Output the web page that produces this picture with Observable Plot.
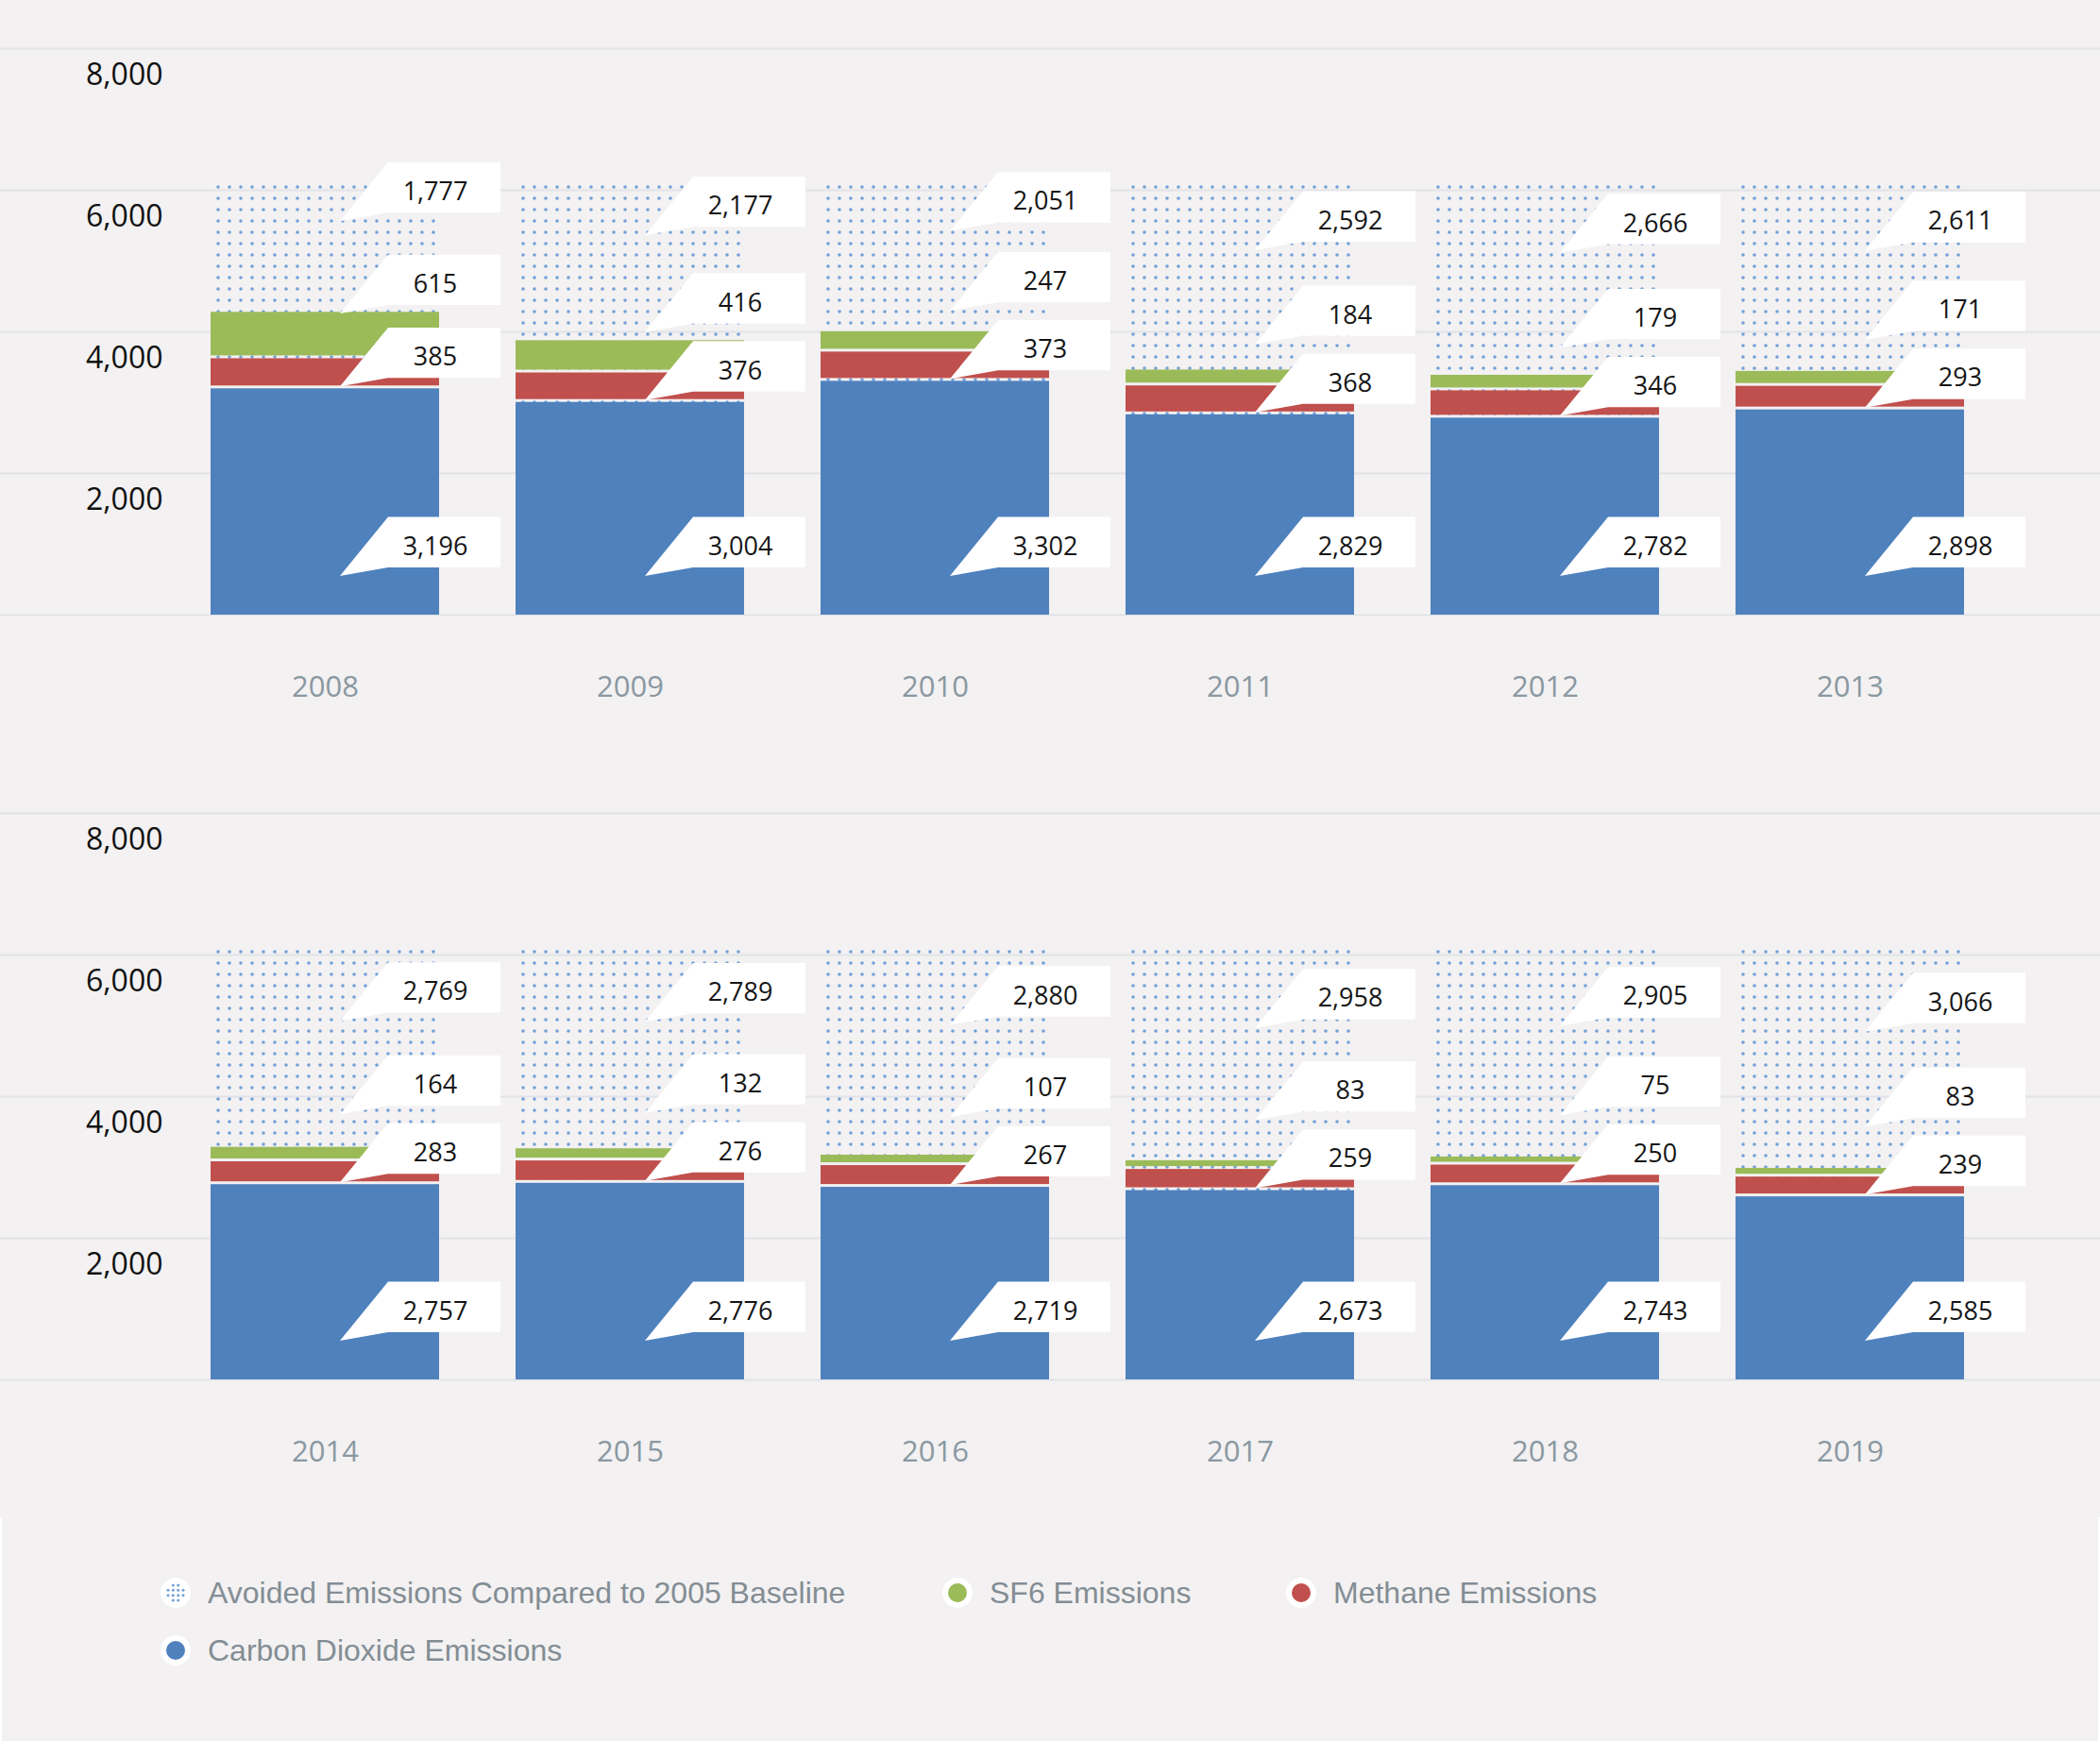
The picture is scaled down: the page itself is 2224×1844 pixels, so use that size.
<!DOCTYPE html>
<html>
<head>
<meta charset="utf-8">
<script src="https://cdn.jsdelivr.net/npm/d3@7"></script>
<script src="https://cdn.jsdelivr.net/npm/@observablehq/plot@0.6"></script>
<style>
  html, body { margin: 0; padding: 0; background: #f3f1f2; }
  #wrap { position: relative; width: 2224px; height: 1844px; overflow: hidden; background: #f3f1f2; }
  #charts svg { display: block; }
  #legend { position: absolute; left: 0; top: 1607px; width: 2224px; height: 237px; box-sizing: border-box;
            border-left: 2px solid #fff; border-right: 2px solid #fff;
            font-family: "Liberation Sans", Arial, sans-serif; font-size: 32px; color: #838d94; }
  .lg-marker { position: absolute; width: 34px; height: 34px; }
  .lg-text { position: absolute; line-height: 1; transform: translateY(-50%); white-space: nowrap; }
</style>
</head>
<body>
<div id="wrap">
  <div id="charts"></div>
  <div id="legend"></div>
</div>
<script>
// ---------- data ----------
const years    = ["2008","2009","2010","2011","2012","2013","2014","2015","2016","2017","2018","2019"];
const co2      = [3196, 3004, 3302, 2829, 2782, 2898, 2757, 2776, 2719, 2673, 2743, 2585];
const methane  = [385, 376, 373, 368, 346, 293, 283, 276, 267, 259, 250, 239];
const sf6      = [615, 416, 247, 184, 179, 171, 164, 132, 107, 83, 75, 83];
const avoided  = [1777, 2177, 2051, 2592, 2666, 2611, 2769, 2789, 2880, 2958, 2905, 3066];
const yTickValues = [2000, 4000, 6000, 8000];
const gridValues  = [0, 2000, 4000, 6000, 8000];
const seriesNames = ["Avoided Emissions Compared to 2005 Baseline", "SF6 Emissions", "Methane Emissions", "Carbon Dioxide Emissions"];

const colors = { co2: "#4f81bd", ch4: "#c0504d", sf6: "#9bbb59", dots: "#71a0d8" };
const fmt = d3.format(",");

const rows = years.map((year, i) => ({ year, co2: co2[i], ch4: methane[i], sf6: sf6[i], avoided: avoided[i] }));

const GAP = 3;          // pixel gap between stacked segments
const ML = 141, MR = 61;

// pattern defs (one per bar so the dot grid starts at each bar's corner)
function defsMark(panelRows) {
  return (index, scales) => {
    const { x, y } = scales;
    const defs = d3.create("svg:defs");
    for (const d of panelRows) {
      const total = d.co2 + d.ch4 + d.sf6 + d.avoided;
      const p = defs.append("pattern")
        .attr("id", "dots-" + d.year)
        .attr("patternUnits", "userSpaceOnUse")
        .attr("x", x(d.year) + 2)
        .attr("y", y(total) - 2)
        .attr("width", 12).attr("height", 12);
      p.append("circle").attr("cx", 6).attr("cy", 6).attr("r", 1.8).attr("fill", colors.dots);
    }
    return defs.node();
  };
}

// callout labels
function labelMark(panelRows) {
  return (index, scales) => {
    const { x, y } = scales;
    const bw = x.bandwidth();
    const g = d3.create("svg:g").attr("font-family", "'Open Sans', sans-serif");
    const H = 26.7, TIP = 9, OFF = H + TIP;
    for (const d of panelRows) {
      const cx = x(d.year) + bw / 2;
      const y0 = y(0);
      const s1 = d.co2, s2 = s1 + d.ch4, s3 = s2 + d.sf6, s4 = s3 + d.avoided;
      const co2C = y0 - 41 - OFF;
      const ch4C = y(s1) - OFF - 2;
      const sf6C = Math.min((y(s2) + y(s3)) / 2 - 2 * GAP - 57, ch4C - 72);
      const avC  = Math.min((y(s3) + y(s4)) / 2 - 3 * GAP - 62, sf6C - 72);
      [[co2C, d.co2], [ch4C, d.ch4], [sf6C, d.sf6], [avC, d.avoided]].forEach(([c, v]) => {
        const top = c - H, bot = c + H, L = cx + 67, R = cx + 186;
        g.append("path")
          .attr("d", `M${L},${top}H${R}V${bot}H${L}L${cx + 16},${bot + TIP}Z`)
          .attr("fill", "#ffffff");
        g.append("text")
          .attr("x", cx + 117).attr("y", c + 3)
          .attr("text-anchor", "middle").attr("dominant-baseline", "central")
          .attr("font-size", 27).attr("fill", "#151515")
          .text(fmt(v));
      });
    }
    return g.node();
  };
}

function panel(panelRows) {
  return Plot.plot({
    width: 2224,
    height: 810,
    marginTop: 51,
    marginBottom: 159,
    marginLeft: ML,
    marginRight: MR,
    style: { background: "transparent", fontFamily: "'Open Sans', sans-serif", overflow: "visible" },
    x: { type: "band", domain: panelRows.map(d => d.year), padding: 0.25, label: null },
    y: { domain: [0, 8000], label: null },
    color: { type: "identity" },
    marks: [
      defsMark(panelRows),
      Plot.ruleY(gridValues, { stroke: "#e1e3e8", strokeWidth: 2, insetLeft: -ML, insetRight: -MR }),
      Plot.barY(panelRows, { x: "year", y1: 0, y2: d => d.co2 + d.ch4 + d.sf6 + d.avoided,
                             fill: d => `url(#dots-${d.year})`, dy: -3 * GAP }),
      Plot.barY(panelRows, { x: "year", y1: 0, y2: "co2", fill: colors.co2 }),
      Plot.barY(panelRows, { x: "year", y1: "co2", y2: d => d.co2 + d.ch4, fill: colors.ch4, dy: -GAP }),
      Plot.barY(panelRows, { x: "year", y1: d => d.co2 + d.ch4, y2: d => d.co2 + d.ch4 + d.sf6, fill: colors.sf6, dy: -2 * GAP }),
      Plot.axisY(yTickValues, { tickSize: 0, tickPadding: 0, dx: 31, dy: 28, tickFormat: fmt, fontSize: 32, color: "#111111", label: null }),
      Plot.axisX({ tickSize: 0, tickPadding: 64, fontSize: 31, color: "#8a98a1", label: null }),
      labelMark(panelRows)
    ]
  });
}

const charts = document.getElementById("charts");
charts.appendChild(panel(rows.slice(0, 6)));
charts.appendChild(panel(rows.slice(6, 12)));

// ---------- legend ----------
const legend = document.getElementById("legend");
const legendItems = [
  { name: seriesNames[0], kind: "dots", color: colors.dots, cx: 184, cy: 80, tx: 218 },
  { name: seriesNames[1], kind: "solid", color: colors.sf6, cx: 1012, cy: 80, tx: 1046 },
  { name: seriesNames[2], kind: "solid", color: colors.ch4, cx: 1376, cy: 80, tx: 1410 },
  { name: seriesNames[3], kind: "solid", color: colors.co2, cx: 184, cy: 141, tx: 218 }
];
for (const it of legendItems) {
  const svg = d3.create("svg").attr("class", "lg-marker").attr("width", 34).attr("height", 34)
    .style("left", (it.cx - 17) + "px").style("top", (it.cy - 17) + "px");
  svg.append("circle").attr("cx", 17).attr("cy", 17).attr("r", 16).attr("fill", "#fff");
  if (it.kind === "solid") {
    svg.append("circle").attr("cx", 17).attr("cy", 17).attr("r", 10).attr("fill", it.color);
  } else {
    const offs = [-8, -2.7, 2.7, 8];
    for (const ox of offs) for (const oy of offs) {
      if (Math.hypot(ox, oy) <= 10.5) {
        svg.append("circle").attr("cx", 17 + ox).attr("cy", 17 + oy).attr("r", 1.5).attr("fill", it.color);
      }
    }
  }
  legend.appendChild(svg.node());
  const span = document.createElement("div");
  span.className = "lg-text";
  span.style.left = it.tx + "px";
  span.style.top = it.cy + "px";
  span.textContent = it.name;
  legend.appendChild(span);
}
</script>
</body>
</html>
